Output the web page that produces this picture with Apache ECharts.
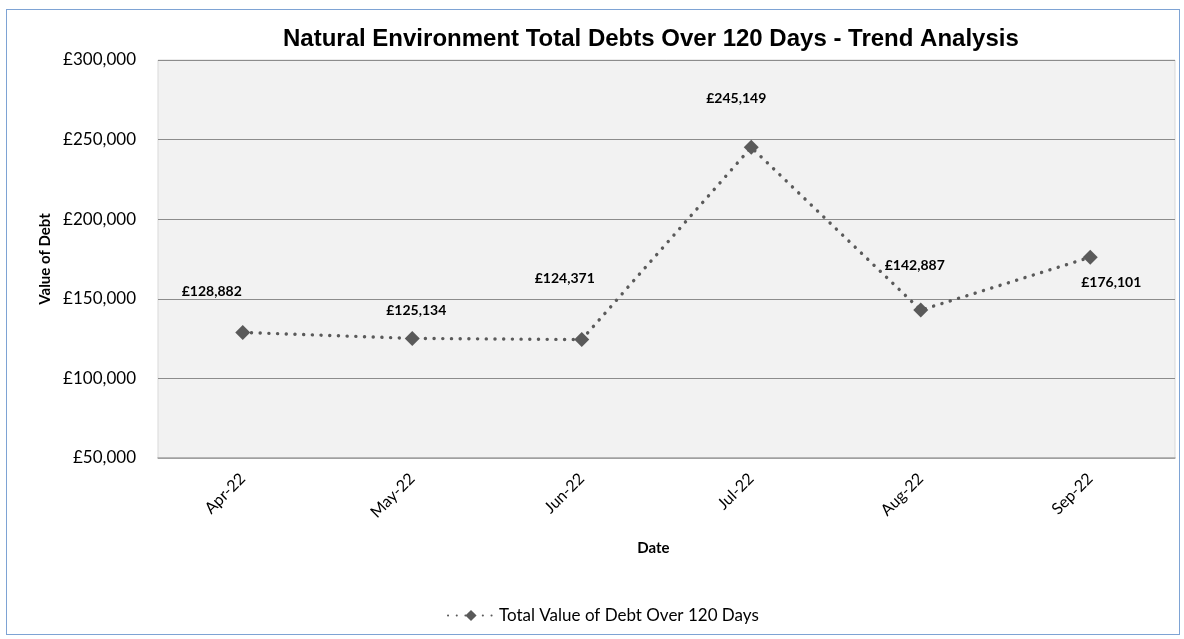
<!DOCTYPE html>
<html>
<head>
<meta charset="utf-8">
<script src="https://cdn.jsdelivr.net/npm/echarts@6/dist/echarts.min.js"></script>
<style>
html,body{margin:0;padding:0;background:#fff;}
#wrap{position:relative;width:1184px;height:639px;}
#frame{position:absolute;left:6px;top:9px;width:1174px;height:626px;border:1px solid #7ea3d4;box-sizing:border-box;pointer-events:none;z-index:2;}
#chart{position:absolute;left:0;top:0;width:1184px;height:639px;}
</style>
</head>
<body>
<div id="wrap"><div id="chart"></div><div id="frame"></div></div>
<script>
const categories = ['Apr-22', 'May-22', 'Jun-22', 'Jul-22', 'Aug-22', 'Sep-22'];
const debtValues = [128882, 125134, 124371, 245149, 142887, 176101];
const seriesName = 'Total Value of Debt Over 120 Days';
const yMin = 50000, yMax = 300000, yStep = 50000;

// label placement (style only)
const labelOffsets = [[-31, -41], [4, -28], [-17, -61], [-15, -49], [-6, -45], [21, 25]];

const fmt = v => '£' + v.toLocaleString('en-GB');
const FONT = 'Lato, "Open Sans", "Noto Sans", sans-serif';

const chart = echarts.init(document.getElementById('chart'), null, {renderer: 'canvas'});
chart.setOption({
  animation: false,
  backgroundColor: '#ffffff',
  title: {
    text: 'Natural Environment Total Debts Over 120 Days - Trend Analysis',
    left: 278, top: 22,
    textStyle: {fontFamily: '"Liberation Sans", Arial, sans-serif', fontWeight: 'bold', fontSize: 24, color: '#000'}
  },
  legend: {
    left: 442, top: 602,
    itemWidth: 46, itemHeight: 14,
    itemGap: 8,
    data: [seriesName],
    textStyle: {fontFamily: FONT, fontSize: 17, color: '#000'}
  },
  grid: {
    left: 158, right: 9, top: 60, bottom: 181,
    show: true, backgroundColor: '#f2f2f2', borderColor: '#d9d9d9', borderWidth: 1
  },
  xAxis: {
    type: 'category',
    data: categories,
    boundaryGap: true,
    name: 'Date',
    nameLocation: 'middle',
    nameGap: 83,
    nameTextStyle: {fontFamily: FONT, fontWeight: 'bold', fontSize: 15, color: '#000', padding: [0, 26, 0, 0]},
    axisLine: {lineStyle: {color: '#a6a6a6', width: 1.5}},
    axisTick: {show: false},
    axisLabel: {rotate: 45, margin: 18, fontFamily: FONT, fontSize: 16, color: '#000'}
  },
  yAxis: {
    type: 'value',
    min: yMin, max: yMax, interval: yStep,
    name: 'Value of Debt',
    nameLocation: 'middle',
    nameGap: 104,
    nameTextStyle: {fontFamily: FONT, fontWeight: 'bold', fontSize: 15, color: '#000'},
    axisLine: {show: false},
    axisTick: {show: false},
    splitLine: {lineStyle: {color: '#8c8c8c', width: 1.2}},
    axisLabel: {margin: 22, formatter: fmt, fontFamily: FONT, fontSize: 17, color: '#000'}
  },
  series: [{
    name: seriesName,
    type: 'line',
    data: debtValues.map((v, i) => ({
      value: v,
      label: {offset: labelOffsets[i]}
    })),
    symbol: 'diamond',
    symbolSize: 15,
    itemStyle: {color: '#5a5a5a'},
    lineStyle: {color: '#5a5a5a', width: 3.4, type: [0.1, 8.6], cap: 'round'},
    label: {
      show: true, position: 'inside',
      formatter: p => fmt(p.value),
      fontFamily: FONT, fontWeight: 'bold', fontSize: 14, color: '#000'
    }
  }]
});
</script>
</body>
</html>
